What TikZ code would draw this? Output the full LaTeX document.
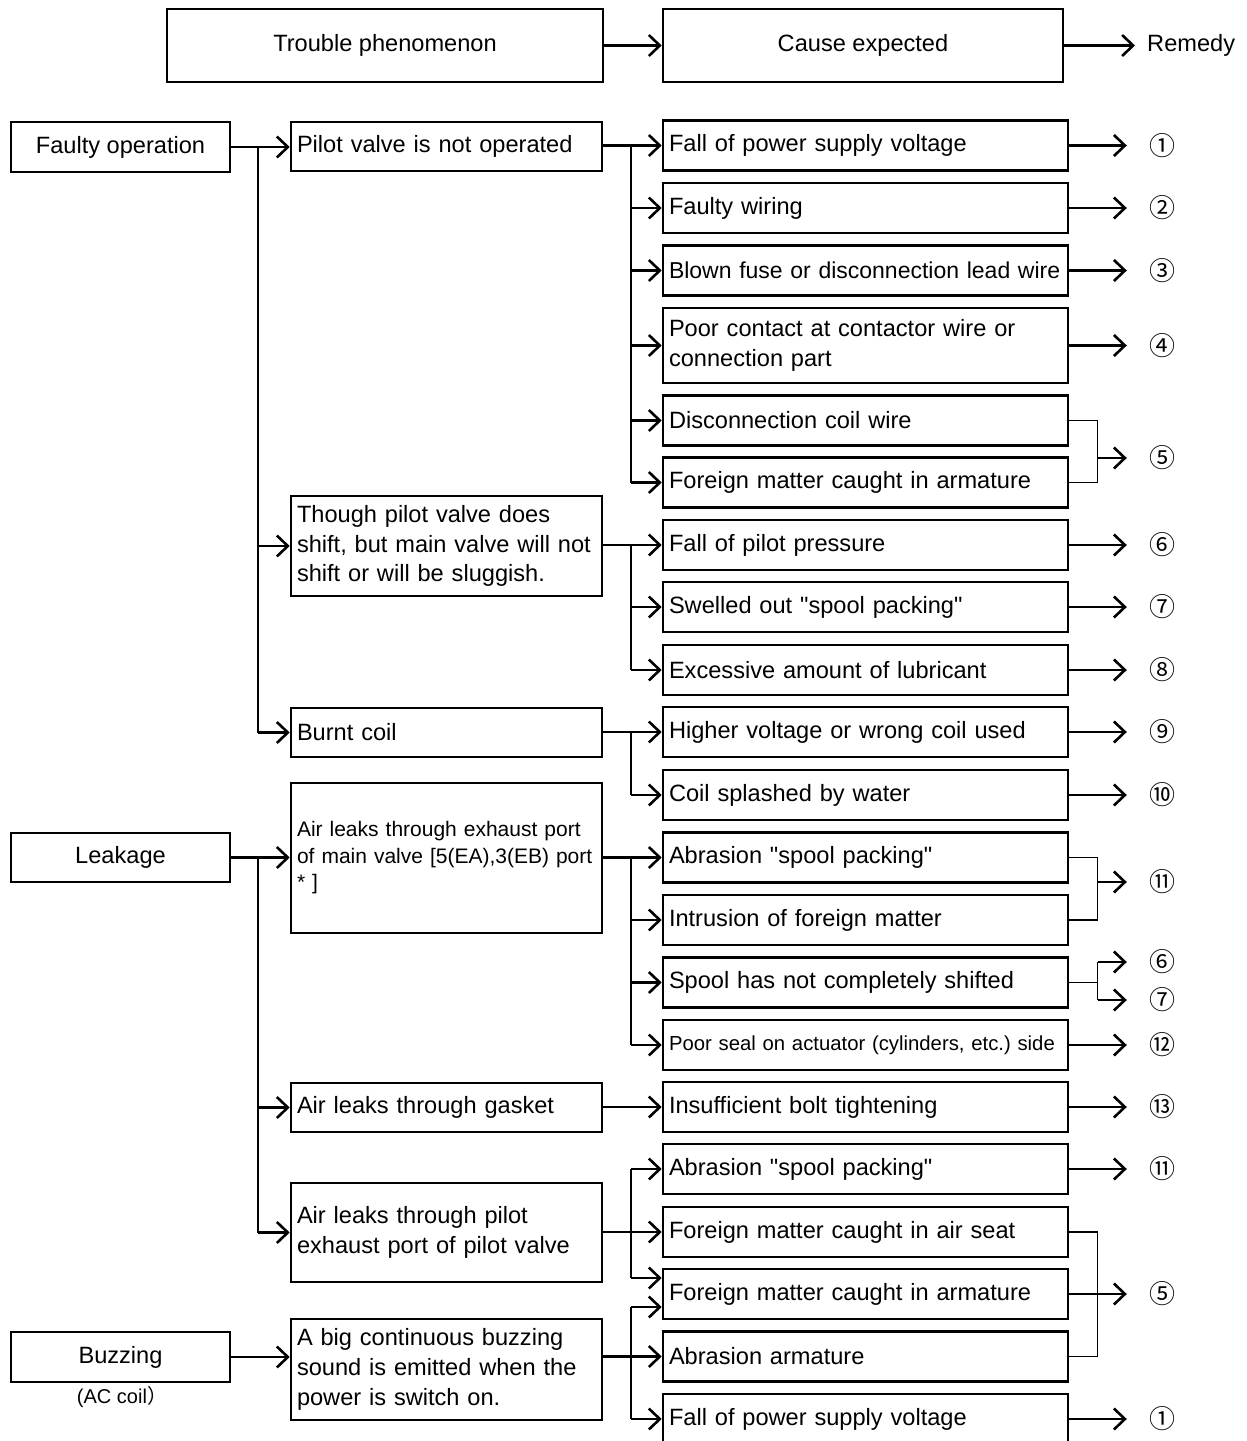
\documentclass[tikz,border=0pt]{standalone}
\usepackage{fontspec}
\setmainfont{Liberation Sans}[Ligatures=TeXOff]
\newfontfamily\cjk{Noto Sans CJK JP}
\usetikzlibrary{arrows.meta}
\newcommand\dq{\symbol{34}}
\frenchspacing
\begin{document}
\begin{tikzpicture}[x=1pt,y=-1pt,
  bx/.style={draw, line width=2.6pt, inner xsep=6pt, inner ysep=0pt, font={\fontsize{23.6}{29.5}\selectfont}},
  cbox/.style={bx, text width=393pt, align=left, minimum height=50pt},
  mbox/.style={bx, text width=299pt, align=left},
  lbox/.style={bx, minimum width=219pt, minimum height=50pt, align=center},
  hbox/.style={bx, minimum height=73pt, align=center},
  num/.style={font={\cjk\fontsize{26}{26}\selectfont}, minimum width=70pt, inner sep=0pt},
  arr/.style={-{Straight Barb[length=11pt,width=21pt]}, line width=2.6pt},
  trk/.style={line width=2pt},
  brk/.style={line width=1.6pt}]
\clip (0,0) rectangle (1247,1441);
\fill[white] (0,0) rectangle (1247,1441);

% header
\node[hbox, minimum width=436pt] (h1) at (385,45.5) {Trouble phenomenon};
\node[hbox, minimum width=400pt] (h2) at (863,45.5) {Cause expected};
\node[font={\fontsize{23.6}{24}\selectfont}, anchor=west, inner sep=0pt] (rem) at (1147,45.5) {Remedy};
\draw[arr] (h1.east) -- (h2.west);
\draw[arr, shorten >=12pt] (h2.east) -- (h2.east -| rem.west);

% left column
\node[lbox] (f) at (120.5,147) {Faulty operation};
\node[lbox, minimum height=49pt] (l) at (120.5,857.5) {Leakage};
\node[lbox] (b) at (120.5,1357) {Buzzing};
\node[font={\fontsize{20}{20}\selectfont}, inner sep=0pt] (ac) at (122,1397) {(AC coil{\cjk ）}};

% middle column
\node[mbox, minimum height=49pt] (p1) at (446.5,146.5) {Pilot valve is not operated};
\node[mbox, minimum height=100pt] (p2) at (446.5,546) {Though pilot valve does\\shift, but main valve will not\\shift or will be sluggish.};
\node[mbox, minimum height=49pt] (p3) at (446.5,732.5) {Burnt coil};
\node[mbox, minimum height=150pt, font={\fontsize{21}{26.5}\selectfont}] (p4) at (446.5,858) {Air leaks through exhaust port\\\mbox{of main valve [5(EA),3(EB) port}\\{}* ]};
\node[mbox, minimum height=49pt] (p5) at (446.5,1107.5) {Air leaks through gasket};
\node[mbox, minimum height=99pt] (p6) at (446.5,1232.5) {Air leaks through pilot\\exhaust port of pilot valve};
\node[mbox, minimum height=101pt, font={\fontsize{23.6}{30}\selectfont}] (p7) at (446.5,1369.5) {A big continuous buzzing\\sound is emitted when the\\power is switch on.};

% cause column
\node[cbox] (c1) at (865.5,145.5) {Fall of power supply voltage};
\node[cbox] (c2) at (865.5,208) {Faulty wiring};
\node[cbox, font={\fontsize{23}{29}\selectfont}] (c3) at (865.5,270.5) {\mbox{Blown fuse or disconnection lead wire}};
\node[cbox, minimum height=75pt] (c4) at (865.5,345.5) {Poor contact at contactor wire or\\connection part};
\node[cbox] (c5) at (865.5,420.5) {Disconnection coil wire};
\node[cbox] (c6) at (865.5,482.5) {Foreign matter caught in armature};
\node[cbox] (c7) at (865.5,545) {Fall of pilot pressure};
\node[cbox] (c8) at (865.5,607) {Swelled out \dq spool packing\dq};
\node[cbox] (c9) at (865.5,670) {Excessive amount of lubricant};
\node[cbox] (c10) at (865.5,732) {Higher voltage or wrong coil used};
\node[cbox] (c11) at (865.5,795) {Coil splashed by water};
\node[cbox] (c12) at (865.5,857.5) {Abrasion \dq spool packing\dq};
\node[cbox] (c13) at (865.5,920) {Intrusion of foreign matter};
\node[cbox] (c14) at (865.5,982.5) {Spool has not completely shifted};
\node[cbox, font={\fontsize{20.3}{24}\selectfont}] (c15) at (865.5,1045) {\mbox{Poor seal on actuator (cylinders, etc.) side}};
\node[cbox] (c16) at (865.5,1107) {Insufficient bolt tightening};
\node[cbox] (c17) at (865.5,1169) {Abrasion \dq spool packing\dq};
\node[cbox] (c18) at (865.5,1232) {Foreign matter caught in air seat};
\node[cbox] (c19) at (865.5,1294) {Foreign matter caught in armature};
\node[cbox] (c20) at (865.5,1356.5) {Abrasion armature};
\node[cbox] (c21) at (865.5,1419) {Fall of power supply voltage};

% remedy numerals
\node[num] (r1) at (1162,145.5) {①};
\node[num] (r2) at (1162,208) {②};
\node[num] (r3) at (1162,270.5) {③};
\node[num] (r4) at (1162,345.5) {④};
\node[num] (r5) at (1162,458) {⑤};
\node[num] (r6) at (1162,545) {⑥};
\node[num] (r7) at (1162,607) {⑦};
\node[num] (r8) at (1162,670) {⑧};
\node[num] (r9) at (1162,732) {⑨};
\node[num] (r10) at (1162,795) {⑩};
\node[num] (r11) at (1162,882) {⑪};
\node[num] (r12) at (1162,962) {⑥};
\node[num] (r13) at (1162,1000) {⑦};
\node[num] (r14) at (1162,1045) {⑫};
\node[num] (r15) at (1162,1107) {⑬};
\node[num] (r16) at (1162,1169) {⑪};
\node[num] (r17) at (1162,1294) {⑤};
\node[num] (r18) at (1162,1419) {①};

% trunk x positions
\coordinate (xF) at (258,0);
\coordinate (xC) at (631,0);
\coordinate (xB) at (1097.5,0);

% faulty operation
\draw[arr] (f.east) -- (f.east -| p1.west);
\draw[trk] (f.east -| xF) -- (p3.west -| xF);
\draw[arr] (p2.west -| xF) -- (p2.west);
\draw[arr] (p3.west -| xF) -- (p3.west);

% pilot valve not operated
\draw[arr] (c1.west -| p1.east) -- (c1.west);
\draw[trk] (c1.west -| xC) -- (c6.west -| xC);
\foreach \c in {c2,c3,c4,c5,c6} \draw[arr] (\c.west -| xC) -- (\c.west);

% main valve sluggish
\draw[arr] (c7.west -| p2.east) -- (c7.west);
\draw[trk] (c7.west -| xC) -- (c9.west -| xC);
\foreach \c in {c8,c9} \draw[arr] (\c.west -| xC) -- (\c.west);

% burnt coil
\draw[arr] (c10.west -| p3.east) -- (c10.west);
\draw[trk] (c10.west -| xC) -- (c11.west -| xC);
\draw[arr] (c11.west -| xC) -- (c11.west);

% leakage
\draw[arr] (l.east) -- (l.east -| p4.west);
\draw[trk] (l.east -| xF) -- (p6.west -| xF);
\draw[arr] (p5.west -| xF) -- (p5.west);
\draw[arr] (p6.west -| xF) -- (p6.west);

\draw[arr] (c12.west -| p4.east) -- (c12.west);
\draw[trk] (c12.west -| xC) -- (c15.west -| xC);
\foreach \c in {c13,c14,c15} \draw[arr] (\c.west -| xC) -- (\c.west);

\draw[arr] (c16.west -| p5.east) -- (c16.west);

\draw[arr] (c18.west -| p6.east) -- (c18.west);
\draw[trk] (c17.west -| xC) -- ([yshift=16pt]c19.west -| xC);
\draw[arr] (c17.west -| xC) -- (c17.west);
\draw[arr] ([yshift=16pt]c19.west -| xC) -- ([yshift=16pt]c19.west);

% buzzing
\draw[arr] (b.east) -- (b.east -| p7.west);
\draw[arr] (c20.west -| p7.east) -- (c20.west);
\draw[trk] ([yshift=-13pt]c19.west -| xC) -- (c21.west -| xC);
\draw[arr] ([yshift=-13pt]c19.west -| xC) -- ([yshift=-13pt]c19.west);
\draw[arr] (c21.west -| xC) -- (c21.west);

% remedies
\foreach \c/\r in {c1/r1,c2/r2,c3/r3,c4/r4,c7/r6,c8/r7,c9/r8,c10/r9,c11/r10,c15/r14,c16/r15,c17/r16,c21/r18}
  \draw[arr] (\c.east) -- (\c.east -| \r.west);

% bracket 5
\draw[brk] (c5.east) -- (c5.east -| xB) -- (c6.east -| xB) -- (c6.east);
\draw[arr] (r5.west -| xB) -- (r5.west);
% bracket 11
\draw[brk] (c12.east) -- (c12.east -| xB) -- (c13.east -| xB) -- (c13.east);
\draw[arr] (r11.west -| xB) -- (r11.west);
% fork 6/7
\draw[brk] (c14.east) -- (c14.east -| xB);
\draw[brk] (r12.west -| xB) -- (r13.west -| xB);
\draw[arr] (r12.west -| xB) -- (r12.west);
\draw[arr] (r13.west -| xB) -- (r13.west);
% bottom bracket 5
\draw[brk] (c18.east) -- (c18.east -| xB) -- (c20.east -| xB) -- (c20.east);
\draw[arr] (c19.east) -- (c19.east -| r17.west);
\end{tikzpicture}
\end{document}
